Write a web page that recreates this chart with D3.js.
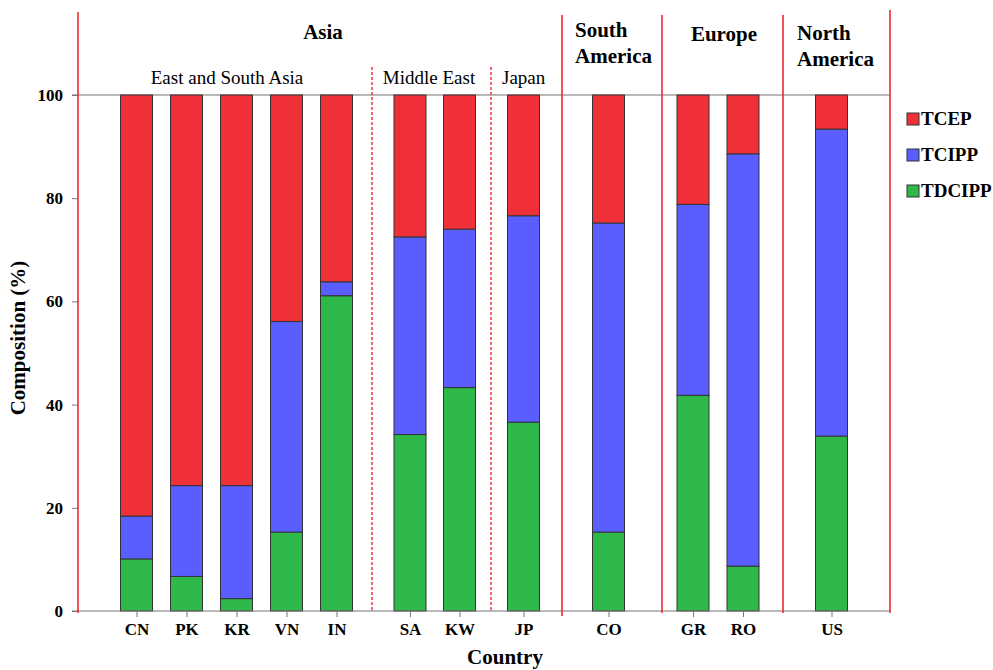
<!DOCTYPE html>
<html>
<head>
<meta charset="utf-8">
<script src="https://cdn.jsdelivr.net/npm/d3@7"></script>
<style>
  body { margin: 0; background: #fff; }
  svg text { font-family: "Liberation Serif", "DejaVu Serif", serif !important; fill: #000; }
</style>
</head>
<body>
<div id="chart"></div>
<script>
const countries = ["CN", "PK", "KR", "VN", "IN", "SA", "KW", "JP", "CO", "GR", "RO", "US"];
// slot position of each bar along the axis (gaps between regions are uneven)
const slots = [0, 1, 2, 3, 4, 5.47, 6.46, 7.74, 9.44, 11.13, 12.13, 13.9];
const tdcipp = [10.1, 6.7, 2.4, 15.3, 61.1, 34.2, 43.3, 36.6, 15.3, 41.8, 8.7, 33.9];
const tcipp = [8.3, 17.6, 21.9, 40.8, 2.7, 38.3, 30.7, 40.0, 59.9, 37.0, 79.9, 59.5];
const tcep = countries.map((c, i) => +(100 - tdcipp[i] - tcipp[i]).toFixed(1));
const seriesNames = ["TDCIPP", "TCIPP", "TCEP"];
const legendOrder = ["TCEP", "TCIPP", "TDCIPP"];
const yTicks = [0, 20, 40, 60, 80, 100];

// region dividers, in slot units
const solidDividers = [-1.17, 8.51, 10.51, 12.93, 15.07];
const dashedDividers = [4.71, 7.09];

const width = 993;
const height = 670;
const colors = {TCEP: "#f03039", TCIPP: "#5b5eff", TDCIPP: "#2eb84a"};

const svg = d3.select("#chart")
  .append("svg")
  .attr("width", width)
  .attr("height", height)
  .style("font-family", '"Liberation Serif", serif');

const x = d3.scaleLinear().domain([-1.29, 15.07]).range([72, 890]);
const y = d3.scaleLinear().domain([0, 100]).range([611, 95]);
const barW = x(0.64) - x(0);

const rows = countries.map((c, i) => ({
  country: c, pos: slots[i], TDCIPP: tdcipp[i], TCIPP: tcipp[i], TCEP: tcep[i]
}));
const stacked = d3.stack().keys(seriesNames)(rows);

// top line at 100
svg.append("line")
  .attr("x1", 72).attr("x2", 890)
  .attr("y1", y(100)).attr("y2", y(100))
  .attr("stroke", "#777").attr("stroke-width", 1.2);

// y axis ticks + labels
const yAxis = svg.append("g")
  .attr("transform", "translate(78,0)")
  .call(d3.axisLeft(y).tickValues(yTicks).tickSize(6).tickPadding(9))
  .attr("font-family", null);
yAxis.select(".domain").remove();
yAxis.selectAll(".tick line").attr("stroke", "#777");
yAxis.selectAll("text")
  .style("font-size", "17px")
  .style("font-weight", "bold").attr("fill", "#000");

// bars
svg.append("g")
  .selectAll("g")
  .data(stacked)
  .join("g")
  .attr("fill", d => colors[d.key])
  .selectAll("rect")
  .data(d => d)
  .join("rect")
  .attr("x", d => x(d.data.pos) - barW / 2)
  .attr("y", d => y(d[1]))
  .attr("width", barW)
  .attr("height", d => y(d[0]) - y(d[1]))
  .attr("stroke", "#333")
  .attr("stroke-width", 1);

// x axis
const xAxis = svg.append("g")
  .attr("transform", `translate(0,${y(0)})`)
  .call(d3.axisBottom(x).tickValues(slots).tickFormat((d, i) => countries[i]).tickSize(6).tickPadding(6))
  .attr("font-family", null);
xAxis.select(".domain")
  .attr("d", `M72,0H890`)
  .attr("stroke", "#777").attr("stroke-width", 1.2);
xAxis.selectAll(".tick line").attr("stroke", "#777");
xAxis.selectAll("text")
  .style("font-size", "17px")
  .style("font-weight", "bold").attr("fill", "#000");

// region dividers
svg.append("g")
  .selectAll("line")
  .data(solidDividers)
  .join("line")
  .attr("x1", d => x(d)).attr("x2", d => x(d))
  .attr("y1", (d, i) => i === 0 ? 12 : (i === solidDividers.length - 1 ? 10 : 15))
  .attr("y2", (d, i) => i === 1 ? 616 : 613)
  .attr("stroke", "#ee2a2e").attr("stroke-width", 1.6);

svg.append("g")
  .selectAll("line")
  .data(dashedDividers)
  .join("line")
  .attr("x1", d => x(d)).attr("x2", d => x(d))
  .attr("y1", 67).attr("y2", 612)
  .attr("stroke", "#ee2a2e").attr("stroke-width", 1.4)
  .attr("stroke-dasharray", "3,2");

// region labels
const bold = {"font-weight": "bold", "font-size": "21px"};
function label(txt, px, py, anchor, opts) {
  const t = svg.append("text").attr("x", px).attr("y", py)
    .attr("text-anchor", anchor).text(txt);
  Object.entries(opts || {}).forEach(([k, v]) => t.style(k, v));
  return t;
}
label("Asia", 323, 39, "middle", bold);
label("East and South Asia", 227, 84, "middle", {"font-size": "19px"});
label("Middle East", 429, 84, "middle", {"font-size": "19px"});
label("Japan", 502, 84, "start", {"font-size": "19px"});
label("South", 575, 37, "start", bold);
label("America", 575, 63, "start", bold);
label("Europe", 724, 41, "middle", bold);
label("North", 797, 40, "start", bold);
label("America", 797, 66, "start", bold);

// axis titles
label("Country", 505, 664, "middle", {"font-weight": "bold", "font-size": "21px"});
svg.append("text")
  .attr("transform", "translate(25,338) rotate(-90)")
  .attr("text-anchor", "middle")
  .style("font-weight", "bold").style("font-size", "21px")
  .text("Composition (%)");

// legend
const legend = svg.append("g")
  .selectAll("g")
  .data(legendOrder)
  .join("g")
  .attr("transform", (d, i) => `translate(907,${113 + i * 36})`);
legend.append("rect")
  .attr("width", 12).attr("height", 12)
  .attr("fill", d => colors[d])
  .attr("stroke", "#333").attr("stroke-width", 1);
legend.append("text")
  .attr("x", 14).attr("y", 12)
  .style("font-weight", "bold").style("font-size", "19px")
  .text(d => d);
</script>
</body>
</html>
